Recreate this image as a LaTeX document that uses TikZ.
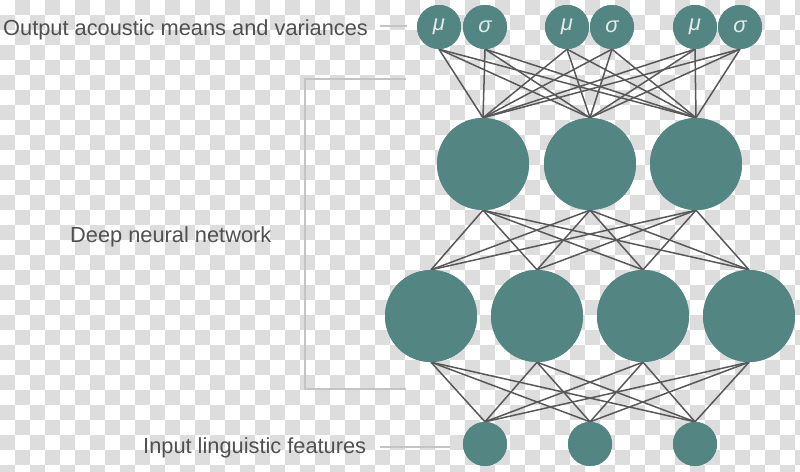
\documentclass[tikz,border=0pt]{standalone}
\usepackage{fontspec}
\setmainfont{Liberation Sans}
\definecolor{chk}{RGB}{221,221,221}
\definecolor{teal}{RGB}{83,133,130}
\definecolor{txt}{RGB}{80,80,80}
\definecolor{edge}{RGB}{88,88,88}
\definecolor{guide}{RGB}{196,196,196}
\definecolor{glyph}{RGB}{225,236,234}
\tikzset{
  neuron/.style={circle,fill=teal,draw=none,inner sep=0pt},
  small/.style={neuron,minimum size=44pt},
  big/.style={neuron,minimum size=92pt},
  link/.style={draw=edge,line width=1.5pt},
  guideline/.style={draw=guide,line width=1.5pt},
  label/.style={inner sep=0pt,anchor=base west,text=txt,font=\fontsize{21.8}{26}\selectfont},
  greek/.style={text=glyph,font=\fontsize{22}{26}\selectfont\itshape}
}
\begin{document}
\begin{tikzpicture}[x=1pt,y=-1pt]
\useasboundingbox (0,0) rectangle (800,471);
% checkerboard background
\begin{scope}
\clip (0,0) rectangle (800,471);
\fill[white] (0,0) rectangle (800,471);
\foreach \i in {0,...,53}{\foreach \j in {0,...,31}{
  \pgfmathtruncatemacro\s{mod(\i+\j,2)}
  \ifnum\s=1 \fill[chk] (\i*15,\j*15) rectangle ++(15,15); \fi
}}
\end{scope}

% output layer
\node[small] (o1) at (439,27) {};
\node[small] (o2) at (485,27) {};
\node[small] (o3) at (567,27) {};
\node[small] (o4) at (612,27) {};
\node[small] (o5) at (695,27) {};
\node[small] (o6) at (740,27) {};
% hidden layer 1
\node[big] (h1) at (483,164) {};
\node[big] (h2) at (590,164) {};
\node[big] (h3) at (696,164) {};
% hidden layer 2
\node[big] (g1) at (431,316) {};
\node[big] (g2) at (537,316) {};
\node[big] (g3) at (643,316) {};
\node[big] (g4) at (749,316) {};
% input layer
\node[small] (i1) at (485,444) {};
\node[small] (i2) at (590,444) {};
\node[small] (i3) at (695,444) {};

% connections
\foreach \a in {o1,o2,o3,o4,o5,o6}{\foreach \b in {h1,h2,h3}{\draw[link] (\a.south) -- (\b.north);}}
\foreach \a in {h1,h2,h3}{\foreach \b in {g1,g2,g3,g4}{\draw[link] (\a.south) -- (\b.north);}}
\foreach \a in {g1,g2,g3,g4}{\foreach \b in {i1,i2,i3}{\draw[link] (\a.south) -- (\b.north);}}

% circles again, above the line ends
\foreach \n in {o1,o2,o3,o4,o5,o6,i1,i2,i3}{\fill[teal] (\n) circle (22);}
\foreach \n in {h1,h2,h3,g1,g2,g3,g4}{\fill[teal] (\n) circle (46);}

% greek labels
\node[greek] (m1) at (o1) {μ};
\node[greek] (s1) at (o2) {σ};
\node[greek] (m2) at (o3) {μ};
\node[greek] (s2) at (o4) {σ};
\node[greek] (m3) at (o5) {μ};
\node[greek] (s3) at (o6) {σ};

% labels
\node[label] (lout) at (3,35.5) {Output acoustic means and variances};
\node[label] (ldnn) at (70,242) {Deep neural network};
\node[label] (lin) at (143,453) {Input linguistic features};

% guide lines
\coordinate (outA) at (380,26);
\coordinate (outB) at (407,26);
\draw[guideline] (outA) -- (outB);
\coordinate (inA) at (380,447);
\coordinate (inB) at (450,447);
\draw[guideline] (inA) -- (inB);
\coordinate (brA) at (406,79);
\coordinate (brB) at (305,79);
\coordinate (brC) at (305,389);
\coordinate (brD) at (406,389);
\draw[guideline] (brA) -- (brB) -- (brC) -- (brD);
\end{tikzpicture}
\end{document}
